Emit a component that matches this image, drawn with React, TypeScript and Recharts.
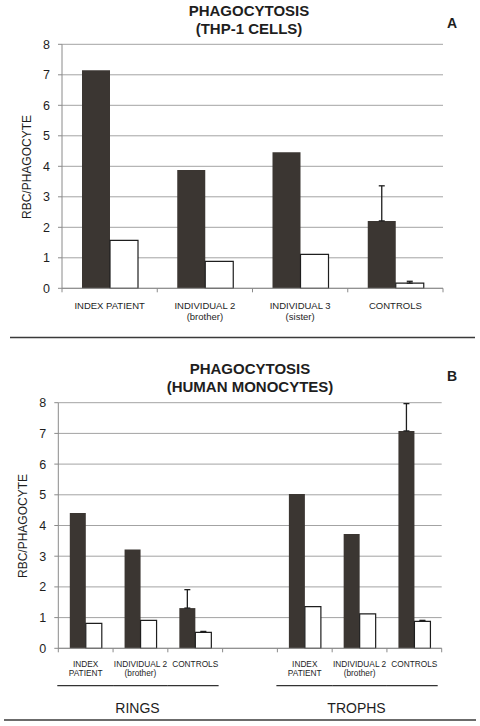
import React from 'react';
import { BarChart, Bar, XAxis, YAxis, CartesianGrid, ErrorBar } from 'recharts';

const FONT = '"Liberation Sans", Arial, Helvetica, sans-serif';
const DARK = '#3b3632';
const INK = '#1e1e1e';
const GRID = '#a3a3a3';
const AXIS = '#8a8a8a';

// ---- Panel A : THP-1 cells ----
const categoriesA = ['INDEX PATIENT', 'INDIVIDUAL 2', 'INDIVIDUAL 3', 'CONTROLS'];
const subLabelsA = ['', '(brother)', '(sister)', ''];
const darkA = [7.15, 3.88, 4.46, 2.21];
const lightA = [1.57, 0.88, 1.11, 0.17];
const darkErrA = [null, null, null, 1.15];
const lightErrA = [null, null, null, 0.06];

// ---- Panel B : human monocytes ----
const categoriesB = ['INDEX', 'INDIVIDUAL 2', 'CONTROLS', '', 'INDEX', 'INDIVIDUAL 2', 'CONTROLS'];
const subLabelsB = ['PATIENT', '(brother)', '', '', 'PATIENT', '(brother)', ''];
const darkB = [4.41, 3.22, 1.31, null, 5.03, 3.72, 7.08];
const lightB = [0.81, 0.91, 0.52, null, 1.36, 1.12, 0.88];
const darkErrB = [null, null, 0.6, null, null, null, 0.89];
const lightErrB = [null, null, 0.03, null, null, null, 0.03];
const groupNamesB = ['RINGS', 'TROPHS'];
const groupOfCategoryB = [0, 0, 0, -1, 1, 1, 1];

const yTicks = [0, 1, 2, 3, 4, 5, 6, 7, 8];

const toErr = (e: number | null) => (e == null ? undefined : [0, e]);

const dataA = categoriesA.map((c, i) => ({
  cat: c + '|' + i,
  dark: darkA[i],
  light: lightA[i],
  darkErr: toErr(darkErrA[i]),
  lightErr: toErr(lightErrA[i]),
}));

const dataB = categoriesB.map((c, i) => ({
  cat: c + '|' + i,
  dark: darkB[i],
  light: lightB[i],
  darkErr: toErr(darkErrB[i]),
  lightErr: toErr(lightErrB[i]),
}));

const TickA = (props: any) => {
  const { x, y, payload, index } = props;
  const off = payload && payload.offset != null ? payload.offset : 47.6;
  const i = payload && payload.index != null ? payload.index : index;
  return (
    <g>
      <line x1={x - off} x2={x - off} y1={y} y2={y + 4} stroke={AXIS} strokeWidth={1} />
      {i === categoriesA.length - 1 && (
        <line x1={x + off} x2={x + off} y1={y} y2={y + 4} stroke={AXIS} strokeWidth={1} />
      )}
      <text x={x} y={y + 20.5} textAnchor="middle" fontSize={9.5} fontFamily={FONT} fill={INK}>
        {categoriesA[i]}
      </text>
      {subLabelsA[i] && (
        <text x={x} y={y + 31.5} textAnchor="middle" fontSize={9.5} fontFamily={FONT} fill={INK}>
          {subLabelsA[i]}
        </text>
      )}
    </g>
  );
};

const TickB = (props: any) => {
  const { x, y, payload, index } = props;
  const off = payload && payload.offset != null ? payload.offset : 27.4;
  const i = payload && payload.index != null ? payload.index : index;
  const g = groupOfCategoryB[i];
  const isMiddle = g >= 0 && groupOfCategoryB[i - 1] === g && groupOfCategoryB[i + 1] === g;
  return (
    <g>
      <line x1={x - off} x2={x - off} y1={y} y2={y + 4} stroke={AXIS} strokeWidth={1} />
      {i === categoriesB.length - 1 && (
        <line x1={x + off} x2={x + off} y1={y} y2={y + 4} stroke={AXIS} strokeWidth={1} />
      )}
      <text x={x} y={y + 18.5} textAnchor="middle" fontSize={8.3} fontFamily={FONT} fill={INK}>
        {categoriesB[i]}
      </text>
      {subLabelsB[i] && (
        <text x={x} y={y + 28} textAnchor="middle" fontSize={8.3} fontFamily={FONT} fill={INK}>
          {subLabelsB[i]}
        </text>
      )}
      {g >= 0 && (
        <line
          x1={x - off + (groupOfCategoryB[i - 1] === g ? 0 : -1)}
          x2={x + off + (groupOfCategoryB[i + 1] === g ? 0 : -4)}
          y1={y + 37.3}
          y2={y + 37.3}
          stroke="#333"
          strokeWidth={1.3}
        />
      )}
      {isMiddle && (
        <text x={x - 3} y={y + 65} textAnchor="middle" fontSize={14} fontFamily={FONT} fill={INK}>
          {groupNamesB[g]}
        </text>
      )}
    </g>
  );
};

const yTickStyle = { fontSize: 12.5, fontFamily: FONT, fill: INK };

export default function App() {
  return (
    <div
      style={{
        position: 'absolute',
        left: 0,
        top: 0,
        width: 480,
        height: 726,
        background: '#ffffff',
        overflow: 'hidden',
      }}
    >
      <div style={{ position: 'absolute', left: 0, top: 0 }}>
        <BarChart
          width={480}
          height={340}
          data={dataA}
          margin={{ top: 44.3, right: 37, left: 0, bottom: 0 }}
          barCategoryGap="21%"
          barGap={0}
        >
          <CartesianGrid vertical={false} stroke={GRID} strokeWidth={1} />
          <XAxis
            dataKey="cat"
            height={51.7}
            stroke={AXIS}
            tickLine={false}
            tickSize={0}
            tickMargin={0}
            interval={0}
            tick={(p: any) => <TickA {...p} />}
          />
          <YAxis
            width={62}
            domain={[0, 8]}
            ticks={yTicks}
            interval={0}
            stroke={AXIS}
            tickSize={4}
            tickMargin={8}
            tick={yTickStyle}
          />
          <Bar dataKey="dark" fill={DARK} isAnimationActive={false}>
            <ErrorBar dataKey="darkErr" direction="y" width={3} stroke={INK} strokeWidth={1.3} />
          </Bar>
          <Bar dataKey="light" fill="#ffffff" stroke={INK} strokeWidth={1.2} isAnimationActive={false}>
            <ErrorBar dataKey="lightErr" direction="y" width={3} stroke={INK} strokeWidth={1.3} />
          </Bar>
        </BarChart>
      </div>

      <div style={{ position: 'absolute', left: 0, top: 350 }}>
        <BarChart
          width={480}
          height={370}
          data={dataB}
          margin={{ top: 52.7, right: 38.3, left: 0, bottom: 0 }}
          barCategoryGap="21%"
          barGap={0}
        >
          <CartesianGrid vertical={false} stroke={GRID} strokeWidth={1} />
          <XAxis
            dataKey="cat"
            height={71.7}
            stroke={AXIS}
            tickLine={false}
            tickSize={0}
            tickMargin={0}
            interval={0}
            tick={(p: any) => <TickB {...p} />}
          />
          <YAxis
            width={58.3}
            domain={[0, 8]}
            ticks={yTicks}
            interval={0}
            stroke={AXIS}
            tickSize={4}
            tickMargin={8}
            tick={yTickStyle}
          />
          <Bar dataKey="dark" fill={DARK} isAnimationActive={false}>
            <ErrorBar dataKey="darkErr" direction="y" width={3} stroke={INK} strokeWidth={1.3} />
          </Bar>
          <Bar dataKey="light" fill="#ffffff" stroke={INK} strokeWidth={1.2} isAnimationActive={false}>
            <ErrorBar dataKey="lightErr" direction="y" width={3} stroke={INK} strokeWidth={1.3} />
          </Bar>
        </BarChart>
      </div>

      <svg
        width={480}
        height={726}
        style={{ position: 'absolute', left: 0, top: 0, pointerEvents: 'none' }}
      >
        <g fontFamily={FONT} fill={INK}>
          <text x={249} y={16} textAnchor="middle" fontSize={15} fontWeight="bold">PHAGOCYTOSIS</text>
          <text x={249} y={33.5} textAnchor="middle" fontSize={15} fontWeight="bold">(THP-1 CELLS)</text>
          <text x={452} y={28.3} textAnchor="middle" fontSize={14} fontWeight="bold">A</text>
          <text
            x={0}
            y={0}
            transform="translate(31.3,167) rotate(-90)"
            textAnchor="middle"
            fontSize={12}
          >
            RBC/PHAGOCYTE
          </text>

          <text x={250} y={374} textAnchor="middle" fontSize={15} fontWeight="bold">PHAGOCYTOSIS</text>
          <text x={250} y={392} textAnchor="middle" fontSize={15} fontWeight="bold">(HUMAN MONOCYTES)</text>
          <text x={452} y={380.7} textAnchor="middle" fontSize={14} fontWeight="bold">B</text>
          <text
            x={0}
            y={0}
            transform="translate(27,526) rotate(-90)"
            textAnchor="middle"
            fontSize={12}
          >
            RBC/PHAGOCYTE
          </text>
        </g>
        <line x1={10} x2={475} y1={337.5} y2={337.5} stroke="#3a3a3a" strokeWidth={1.3} />
        <line x1={4} x2={476} y1={720} y2={720} stroke="#3a3a3a" strokeWidth={1.3} />
      </svg>
    </div>
  );
}
